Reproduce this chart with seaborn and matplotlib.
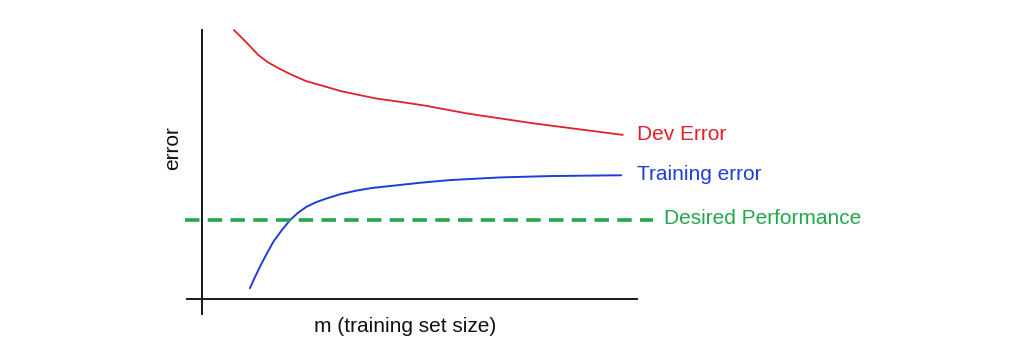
import numpy as np
import pandas as pd
import matplotlib
matplotlib.use("Agg")
import matplotlib.pyplot as plt
import seaborn as sns

# Data (arbitrary units: x = training set size, y = error)
dev_m = [7.6, 10.5, 13.4, 15.7, 18.2, 21.4, 24.8, 29.3, 33.0, 41.2, 47.1, 53.1,
         63.0, 78.9, 100.2]
dev_err = [100.0, 95.5, 90.7, 88.0, 85.8, 83.3, 81.0, 79.0, 77.3, 74.6, 73.3, 71.9,
           69.0, 65.3, 61.0]
train_m = [11.4, 12.6, 13.8, 15.4, 17.0, 19.0, 21.0, 22.9, 24.9, 27.2, 29.7, 33.0,
           36.8, 40.6, 44.8, 51.9, 59.0, 71.0, 82.9, 99.8]
train_err = [4.0, 8.1, 12.0, 16.8, 21.3, 25.6, 29.4, 32.1, 34.3, 36.0, 37.4, 39.0,
             40.3, 41.3, 42.0, 43.2, 44.2, 45.2, 45.7, 46.0]
desired = 29.4
labels = ["Dev Error", "Training error", "Desired Performance"]
xlabel = "m (training set size)"
ylabel = "error"

sns.set_theme(style="white")
plt.rcParams['font.family'] = ['Liberation Sans', 'DejaVu Sans']

fig = plt.figure(figsize=(10.09, 3.5), dpi=100)
ax = fig.add_axes([0, 0, 1, 1])
ax.set_xlim(-202 / 4.2, (1009 - 202) / 4.2)
ax.set_ylim((299 - 350) / 2.69, 299 / 2.69)
ax.axis("off")

red = "#e0202a"
blue = "#1c3fd6"
green = "#22a84a"

# axes lines
ax.plot([0, 0], [-5.95, 100.5], color="#1a1a1a", lw=1.4, solid_capstyle="butt")
ax.plot([-3.8, 103.8], [0, 0], color="#1a1a1a", lw=1.4, solid_capstyle="butt")

dev_df = pd.DataFrame({"m": dev_m, "err": dev_err})
tr_df = pd.DataFrame({"m": train_m, "err": train_err})

sns.lineplot(data=dev_df, x="m", y="err", ax=ax, color=red, lw=1.3, sort=True)
sns.lineplot(data=tr_df, x="m", y="err", ax=ax, color=blue, lw=1.4, sort=True)

ax.plot([-4.0, 107.4], [desired, desired], color=green, lw=2.6, dashes=(4, 2.3))

ax.text(103.6, 61.0, labels[0], color=red, fontsize=15, va="center", ha="left")
ax.text(103.6, 46.1, labels[1], color=blue, fontsize=15, va="center", ha="left")
ax.text(110.0, 30.1, labels[2], color=green, fontsize=15, va="center", ha="left")
ax.text(48.3, -10.4, xlabel, color="#111111", fontsize=15, va="center", ha="center")
ax.text(-7.1, 56.1, ylabel, color="#111111", fontsize=15, va="center", ha="center", rotation=90)

fig.savefig("out.png", dpi=100)
